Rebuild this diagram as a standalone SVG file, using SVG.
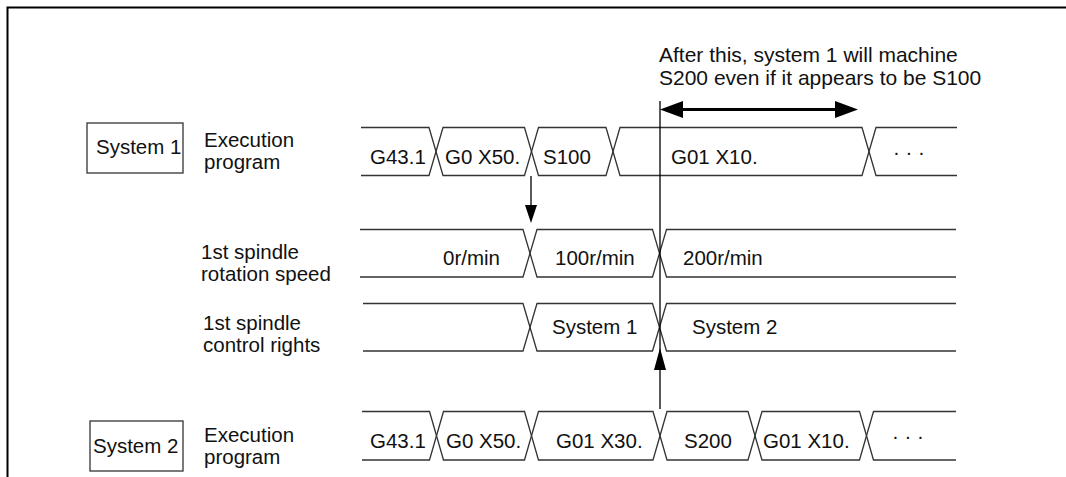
<svg xmlns="http://www.w3.org/2000/svg" width="1066" height="477" viewBox="0 0 1066 477">
<style>
text{font-family:"Liberation Sans",Arial,sans-serif;font-size:20.5px;fill:#111}
.note{font-size:21px}
.sig{fill:none;stroke:#333;stroke-width:1.3}
.box{fill:#fff;stroke:#333;stroke-width:1.3}
.ln{stroke:#000;stroke-width:1.3;fill:none}
.ah{fill:#000}
</style>
<rect width="1066" height="477" fill="#fff"/>
<path d="M7.5,477 V7.5 H1066" fill="none" stroke="#000" stroke-width="2"/>

<g id="system1">
<rect class="box" x="87" y="123" width="96" height="50"/>
<text x="96" y="154">System 1</text>
</g>
<g id="label-exec1">
<text x="204" y="147">Execution</text>
<text x="204" y="168.5">program</text>
</g>
<g id="row-exec1">
<path class="sig" d="M361,127.5 H429 L443,175.5 H524.5 L538.5,127.5 H606 L620,175.5 H862 L876,127.5 H957"/>
<path class="sig" d="M361,175.5 H429 L443,127.5 H524.5 L538.5,175.5 H606 L620,127.5 H862 L876,175.5 H957"/>
<text x="370" y="164">G43.1</text>
<text x="445" y="164">G0 X50.</text>
<text x="543" y="164">S100</text>
<text x="671" y="164">G01 X10.</text>
<text x="893" y="159">· · ·</text>
</g>

<g id="label-speed">
<text x="201" y="259">1st spindle</text>
<text x="201" y="281">rotation speed</text>
</g>
<g id="row-speed">
<path class="sig" d="M360,229.5 H523 L537,277 H652.5 L666.5,229.5 H956"/>
<path class="sig" d="M360,277 H523 L537,229.5 H652.5 L666.5,277 H956"/>
<text x="443" y="265">0r/min</text>
<text x="555" y="265">100r/min</text>
<text x="683" y="265">200r/min</text>
</g>

<g id="label-rights">
<text x="203" y="330">1st spindle</text>
<text x="203" y="352">control rights</text>
</g>
<g id="row-rights">
<path class="sig" d="M363,303.5 H523 L537,351 H652.5 L666.5,303.5 H956"/>
<path class="sig" d="M363,351 H523 L537,303.5 H652.5 L666.5,351 H956"/>
<text x="552" y="334">System 1</text>
<text x="692" y="334">System 2</text>
</g>

<g id="system2">
<rect class="box" x="90" y="421" width="93" height="50"/>
<text x="93" y="453">System 2</text>
</g>
<g id="label-exec2">
<text x="204" y="442">Execution</text>
<text x="204" y="463.5">program</text>
</g>
<g id="row-exec2">
<path class="sig" d="M362,411.5 H429.5 L443.5,460 H524.5 L538.5,411.5 H653 L667,460 H748 L762,411.5 H859.5 L873.5,460 H956"/>
<path class="sig" d="M362,460 H429.5 L443.5,411.5 H524.5 L538.5,460 H653 L667,411.5 H748 L762,460 H859.5 L873.5,411.5 H956"/>
<text x="370" y="448">G43.1</text>
<text x="446" y="448">G0 X50.</text>
<text x="556" y="448">G01 X30.</text>
<text x="684" y="448">S200</text>
<text x="763" y="448">G01 X10.</text>
<text x="892" y="443">· · ·</text>
</g>

<g id="note">
<text class="note" x="659" y="62">After this, system 1 will machine</text>
<text class="note" x="659" y="85">S200 even if it appears to be S100</text>
</g>

<g id="connectors">
<line class="ln" x1="660" y1="101" x2="660" y2="409"/>
<line x1="678" y1="109.5" x2="840" y2="109.5" stroke="#000" stroke-width="3.2"/>
<polygon class="ah" points="660,109.5 683,101 683,118"/>
<polygon class="ah" points="858,109.5 835,101 835,118"/>
<line class="ln" x1="531" y1="176" x2="531" y2="208"/>
<polygon class="ah" points="525,205 537,205 531,223"/>
<polygon class="ah" points="660,348 654,370 666,370"/>
</g>
</svg>
